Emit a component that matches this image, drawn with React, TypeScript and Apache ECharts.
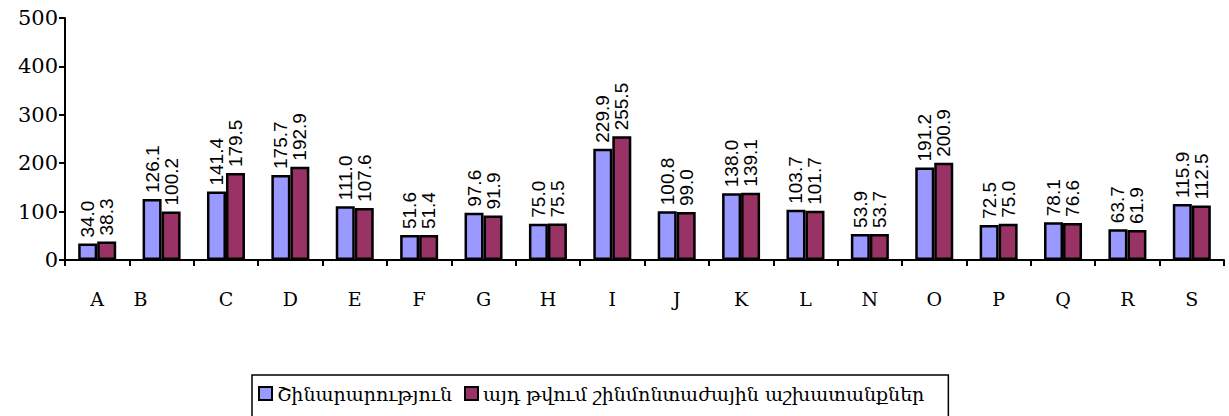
import React, { useEffect, useRef } from "react";
import * as echarts from "echarts";

const categories = ["A", "B", "C", "D", "E", "F", "G", "H", "I", "J", "K", "L", "N", "O", "P", "Q", "R", "S"];
const construction = [34.0, 126.1, 141.4, 175.7, 111.0, 51.6, 97.6, 75.0, 229.9, 100.8, 138.0, 103.7, 53.9, 191.2, 72.5, 78.1, 63.7, 115.9];
const installation = [38.3, 100.2, 179.5, 192.9, 107.6, 51.4, 91.9, 75.5, 255.5, 99.0, 139.1, 101.7, 53.7, 200.9, 75.0, 76.6, 61.9, 112.5];
const seriesNames = ["Շինարարություն", "այդ թվում շինմոնտաժային աշխատանքներ"];
const yTicks = [0, 100, 200, 300, 400, 500];

export default function App() {
  const ref = useRef<HTMLDivElement>(null);
  useEffect(() => {
    if (!ref.current) return;
    const chart = echarts.init(ref.current, null, { renderer: "svg" });
    const label = {
      show: true,
      position: "top",
      rotate: 90,
      align: "left",
      verticalAlign: "middle",
      distance: 6,
      fontFamily: "Arial, 'Liberation Sans'",
      fontSize: 19,
      color: "#000",
      formatter: (p: any) => Number(p.value).toFixed(1),
    };
    chart.setOption({
      animation: false,
      backgroundColor: "#fff",
      grid: { left: 65, right: 5, top: 18, bottom: 156 },
      legend: {
        left: 252,
        top: 375,
        orient: "horizontal",
        icon: "rect",
        itemWidth: 13,
        itemHeight: 13,
        itemGap: 12,
        borderColor: "#000",
        borderWidth: 1.5,
        padding: [9, 24, 40, 6],
        textStyle: { fontFamily: "DejaVu Serif", fontSize: 19, color: "#000" },
        data: seriesNames,
      },
      xAxis: {
        type: "category",
        data: categories,
        axisLine: { lineStyle: { color: "#000", width: 2 } },
        axisTick: { show: true, length: 6, lineStyle: { color: "#000", width: 2 } },
        axisLabel: {
          margin: 29,
          fontFamily: "DejaVu Serif",
          fontSize: 19,
          color: "#000",
          interval: 0,
          formatter: (v: string) => (v === "B" ? "{b|" + v + "}" : v),
          rich: { b: { fontFamily: "DejaVu Serif", fontSize: 19, color: "#000", padding: [0, 42, 0, 0] } },
        },
      },
      yAxis: {
        type: "value",
        min: yTicks[0],
        max: yTicks[yTicks.length - 1],
        interval: 100,
        splitLine: { show: false },
        axisLine: { show: true, lineStyle: { color: "#000", width: 2 } },
        axisTick: { show: true, length: 6, lineStyle: { color: "#000", width: 2 } },
        axisLabel: { margin: 7, fontFamily: "DejaVu Serif", fontSize: 21, color: "#000" },
      },
      series: [
        {
          name: seriesNames[0],
          type: "bar",
          data: construction,
          barWidth: 19,
          barGap: "0%",
          itemStyle: { color: "#9999FF", borderColor: "#000", borderWidth: 2.5 },
          label,
        },
        {
          name: seriesNames[1],
          type: "bar",
          data: installation,
          barWidth: 19,
          barGap: "0%",
          itemStyle: { color: "#993366", borderColor: "#000", borderWidth: 2.5 },
          label,
        },
      ],
    });
    return () => chart.dispose();
  }, []);
  return (
    <div
      ref={ref}
      style={{ position: "absolute", left: 0, top: 0, width: 1229, height: 416 }}
    />
  );
}
